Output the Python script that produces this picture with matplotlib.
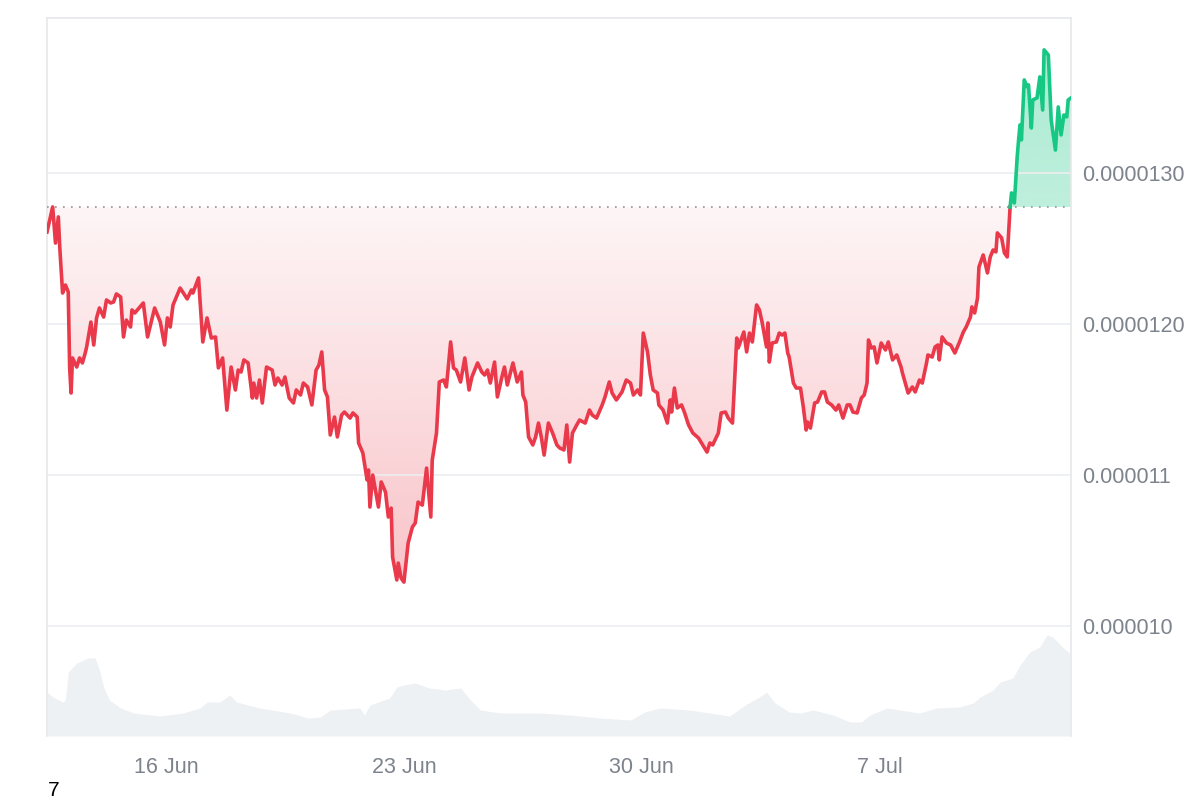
import numpy as np
import pandas as pd
import matplotlib
matplotlib.use('Agg')
import matplotlib.pyplot as plt
import matplotlib.dates as mdates
from matplotlib.path import Path


# price series, hours since 12 Jun 12:00, price in units of 1e-6
start = pd.Timestamp('2024-06-12 12:00')
hours = [0, 4, 6, 8, 9, 11, 13, 15, 16, 17,
         18, 21, 23, 25, 27, 28, 31, 33, 35, 37,
         40, 42, 45, 47, 49, 52, 54, 56, 59, 60,
         62, 65, 68, 71, 76, 80, 83, 85, 87, 89,
         94, 99, 102, 103, 107, 110, 113, 116, 119, 121,
         124, 127, 130, 133, 135, 137, 139, 142, 145, 146,
         148, 150, 152, 155, 159, 161, 163, 166, 168, 171,
         174, 176, 179, 181, 184, 187, 190, 192, 194, 196,
         198, 200, 203, 205, 208, 210, 214, 216, 219, 220,
         223, 226, 227, 228, 230, 234, 236, 239, 241, 243,
         244, 247, 248, 250, 252, 255, 258, 260, 262, 265,
         268, 271, 272, 275, 277, 280, 282, 285, 287, 289,
         292, 295, 298, 300, 304, 307, 309, 311, 313, 316,
         318, 321, 323, 325, 329, 332, 335, 336, 338, 340,
         343, 345, 347, 349, 351, 354, 357, 360, 362, 365,
         367, 369, 371, 374, 376, 380, 383, 385, 388, 392,
         394, 397, 399, 402, 406, 409, 412, 414, 417, 419,
         421, 424, 426, 428, 431, 432, 435, 438, 440, 441,
         443, 445, 448, 450, 453, 456, 460, 463, 466, 468,
         470, 474, 476, 479, 481, 484, 487, 488, 492, 494,
         496, 498, 501, 503, 505, 508, 509, 510, 512, 515,
         517, 519, 521, 523, 524, 527, 529, 532, 534, 536,
         537, 539, 542, 544, 547, 549, 551, 554, 557, 559,
         562, 565, 567, 569, 572, 575, 577, 579, 580, 582,
         584, 586, 589, 592, 594, 597, 600, 603, 604, 608,
         611, 613, 616, 618, 621, 622, 625, 627, 629, 630,
         632, 635, 638, 641, 644, 647, 649, 652, 653, 655,
         657, 658, 661, 664, 666, 668, 670, 671, 674, 676,
         678, 680, 681, 683, 685, 686, 687, 688, 690, 692,
         693, 695, 696, 699, 701, 703, 704, 707, 709, 712,
         714, 716, 718, 720, 721, 723]
price_e6 = [12.609, 12.775, 12.536, 12.709, 12.510, 12.205, 12.258, 12.212, 11.709, 11.543,
            11.775, 11.715, 11.775, 11.742, 11.808, 11.848, 12.013, 11.861, 12.040, 12.106,
            12.046, 12.159, 12.139, 12.146, 12.199, 12.179, 11.914, 12.026, 11.980, 12.093,
            12.073, 12.106, 12.139, 11.914, 12.106, 12.013, 11.861, 12.040, 11.980, 12.126,
            12.238, 12.166, 12.225, 12.205, 12.305, 11.881, 12.040, 11.907, 11.914, 11.709,
            11.775, 11.430, 11.715, 11.563, 11.695, 11.682, 11.762, 11.742, 11.510, 11.609,
            11.510, 11.629, 11.477, 11.715, 11.695, 11.596, 11.642, 11.596, 11.649, 11.510,
            11.477, 11.563, 11.530, 11.609, 11.583, 11.464, 11.695, 11.728, 11.815, 11.563,
            11.517, 11.265, 11.384, 11.252, 11.397, 11.417, 11.377, 11.411, 11.384, 11.212,
            11.146, 10.967, 11.033, 10.788, 11.000, 10.788, 10.954, 10.887, 10.722, 10.781,
            10.457, 10.305, 10.417, 10.318, 10.291, 10.550, 10.656, 10.682, 10.821, 10.801,
            11.046, 10.722, 11.099, 11.278, 11.616, 11.629, 11.583, 11.881, 11.709, 11.695,
            11.616, 11.775, 11.563, 11.649, 11.742, 11.682, 11.662, 11.695, 11.609, 11.748,
            11.517, 11.642, 11.715, 11.596, 11.742, 11.616, 11.682, 11.530, 11.483, 11.252,
            11.199, 11.252, 11.344, 11.252, 11.132, 11.344, 11.278, 11.199, 11.179, 11.166,
            11.331, 11.086, 11.278, 11.331, 11.364, 11.344, 11.430, 11.397, 11.377, 11.464,
            11.517, 11.616, 11.543, 11.497, 11.550, 11.629, 11.609, 11.530, 11.563, 11.530,
            11.940, 11.815, 11.662, 11.563, 11.543, 11.464, 11.430, 11.344, 11.497, 11.417,
            11.576, 11.444, 11.464, 11.417, 11.331, 11.278, 11.245, 11.199, 11.152, 11.212,
            11.199, 11.278, 11.411, 11.417, 11.377, 11.344, 11.907, 11.841, 11.947, 11.815,
            11.940, 11.881, 12.126, 12.093, 12.007, 11.848, 12.007, 11.748, 11.874, 11.881,
            11.940, 11.927, 11.940, 11.808, 11.781, 11.609, 11.576, 11.576, 11.450, 11.298,
            11.351, 11.311, 11.477, 11.483, 11.550, 11.550, 11.483, 11.464, 11.430, 11.464,
            11.377, 11.464, 11.464, 11.417, 11.411, 11.510, 11.530, 11.609, 11.894, 11.841,
            11.848, 11.742, 11.874, 11.828, 11.881, 11.762, 11.795, 11.715, 11.675, 11.543,
            11.583, 11.550, 11.629, 11.609, 11.742, 11.795, 11.781, 11.848, 11.861, 11.762,
            11.914, 11.874, 11.861, 11.808, 11.874, 11.947, 11.980, 12.046, 12.113, 12.073,
            12.172, 12.377, 12.457, 12.338, 12.444, 12.490, 12.477, 12.603, 12.570, 12.470,
            12.444, 12.775, 12.868, 12.801, 13.106, 13.219, 13.318, 13.219, 13.616, 13.570,
            13.583, 13.298, 13.483, 13.497, 13.636, 13.417, 13.815, 13.781, 13.351, 13.152,
            13.437, 13.252, 13.384, 13.371, 13.483, 13.497]
base_e6 = 12.775

# volume (arbitrary units)
vol_hours = [0, 4, 11, 13, 15, 21, 29, 34, 37, 40, 44, 52, 61, 80, 96, 108,
             113, 122, 129, 134, 150, 172, 184, 193, 200, 221, 224, 228, 242, 247,
             252, 260, 270, 281, 292, 299, 306, 320, 348, 369, 390, 412, 422, 433,
             454, 468, 482, 493, 503, 508, 514, 524, 532, 541, 555, 567, 575, 581,
             593, 602, 616, 628, 644, 654, 659, 668, 673, 682, 687, 694, 701, 706,
             710, 717, 722]
volume = [44, 39, 34, 36, 64, 73, 78, 78, 66, 49, 36, 28, 23, 20, 23, 28,
          34, 34, 41, 34, 28, 23, 18, 19, 26, 28, 21, 31, 38, 49,
          51, 53, 48, 46, 48, 36, 26, 23, 23, 21, 18, 16, 24, 28,
          26, 23, 20, 31, 39, 44, 33, 24, 23, 26, 21, 14, 14, 21,
          28, 26, 23, 28, 29, 33, 39, 46, 54, 58, 71, 84, 89, 101,
          99, 89, 83]

yticks_e6 = [10, 11, 12, 13]
ytick_labels = ['0.000010', '0.000011', '0.0000120', '0.0000130']
xtick_dates = ['2024-06-16', '2024-06-23', '2024-06-30', '2024-07-07']
xtick_labels = ['16 Jun', '23 Jun', '30 Jun', '7 Jul']

RED = '#e9394a'
GREEN = '#17c784'
GRID = '#eceef1'
TXT = '#7d838c'


def to_num(h):
    return mdates.date2num((start + pd.to_timedelta(np.asarray(h), unit='h')).to_pydatetime())


def add_crossings(x, y, base):
    xs, ys = [x[0]], [y[0]]
    for i in range(1, len(x)):
        if (y[i-1] - base) * (y[i] - base) < 0:
            f = (base - y[i-1]) / (y[i] - y[i-1])
            xs.append(x[i-1] + f * (x[i] - x[i-1]))
            ys.append(base)
        xs.append(x[i])
        ys.append(y[i])
    return np.array(xs), np.array(ys)


def gradient_fill(ax, x, y, base, below, color, a_far, a_near, y_far):
    where = y <= base if below else y >= base
    poly = ax.fill_between(x, y, base, where=where, interpolate=True, color='none', lw=0)
    path = Path.make_compound_path(*poly.get_paths())
    poly.remove()
    n = 256
    rgba = np.zeros((n, 1, 4))
    rgba[:, 0, :3] = matplotlib.colors.to_rgb(color)
    lo, hi = (y_far, base) if below else (base, y_far)
    if below:
        rgba[:, 0, 3] = np.linspace(a_far, a_near, n)
    else:
        rgba[:, 0, 3] = np.linspace(a_near, a_far, n)
    im = ax.imshow(rgba, extent=[x[0], x[-1], lo, hi], origin='lower',
                   aspect='auto', zorder=1, interpolation='bilinear')
    im.set_clip_path(path, transform=ax.transData)


t = to_num(hours)
p = np.array(price_e6)
tx, px = add_crossings(t, p, base_e6)
red = np.ma.masked_where(px > base_e6, px)
green = np.ma.masked_where(px < base_e6, px)

fig = plt.figure(figsize=(12, 8), dpi=100)
plt.rcParams['font.family'] = ['Liberation Sans', 'DejaVu Sans']
ax = fig.add_axes([47/1200, 64/800, 1024/1200, 718/800])
axv = ax.twinx()
ax.set_zorder(2)
ax.patch.set_visible(False)
axv.set_zorder(1)

# volume
axv.fill_between(to_num(vol_hours), volume, 0, color='#eef1f4', lw=0)
axv.set_ylim(0, 718)
axv.set_yticks([])
for s in axv.spines.values():
    s.set_visible(False)

# fills
gradient_fill(ax, tx, px, base_e6, True, RED, 0.30, 0.05, p.min())
gradient_fill(ax, tx, px, base_e6, False, GREEN, 0.36, 0.28, p.max())

ax.plot(tx, red, color=RED, lw=2.6, zorder=4, solid_joinstyle='round')
ax.plot(tx, green, color=GREEN, lw=2.6, zorder=4, solid_joinstyle='round')
ax.axhline(base_e6, color='#8f959d', lw=1.2, ls=(0, (1, 3.8)), zorder=3)

ax.set_xlim(t[0], t[-1])
ax.set_ylim(9.272, 14.026)
axv.set_xlim(t[0], t[-1])

ax.yaxis.tick_right()
ax.set_yticks(yticks_e6)
ax.set_yticklabels(ytick_labels)
ax.set_xticks(to_num([(pd.Timestamp(d) - start) / pd.Timedelta(hours=1) for d in xtick_dates]))
ax.set_xticklabels(xtick_labels)
ax.tick_params(axis='y', length=0, pad=8, labelsize=15.5, labelcolor=TXT)
ax.tick_params(axis='x', length=0, pad=15, labelsize=15.5, labelcolor=TXT)
ax.grid(axis='y', color=GRID, lw=1.2, zorder=0)
ax.grid(axis='x', visible=False)
for k in ['top', 'left', 'right']:
    ax.spines[k].set_color('#e6e8eb')
    ax.spines[k].set_linewidth(1.2)
ax.spines['bottom'].set_visible(False)

fig.text(48/1200, 1 - 790/800, '7', fontsize=15, va='center', ha='left', color='black')

fig.savefig('out.png', dpi=100)
